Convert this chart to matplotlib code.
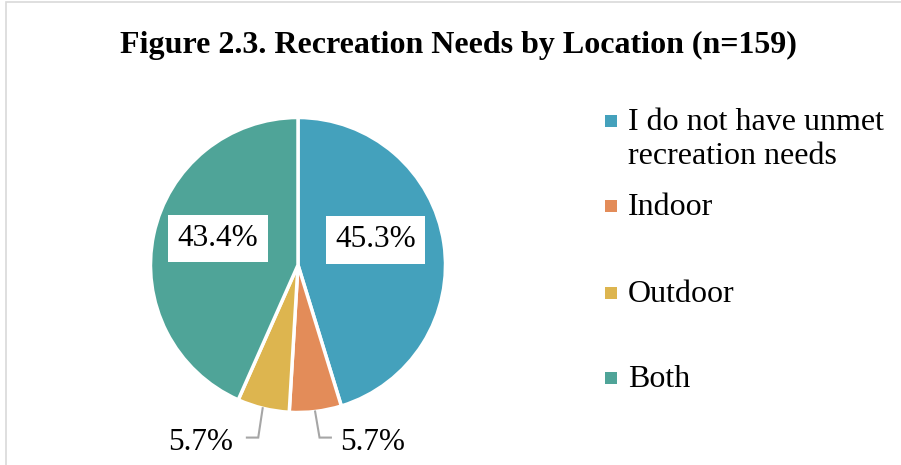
import numpy as np
import matplotlib
matplotlib.use("Agg")
import matplotlib.pyplot as plt
from matplotlib.patches import Rectangle

# data
categories = ["I do not have unmet\nrecreation needs", "Indoor", "Outdoor", "Both"]
shares = [45.3, 5.7, 5.7, 43.4]
colors = ["#44A1BC", "#E38C59", "#DDB54F", "#4FA498"]
title = "Figure 2.3. Recreation Needs by Location (n=159)"

W, H = 901, 465
fig = plt.figure(figsize=(W / 100, H / 100), dpi=100)
plt.rcParams['font.family'] = ['Liberation Serif', 'DejaVu Serif']

# light frame of the chart area (cut off on right / bottom)
fig.patches.append(Rectangle((6 / W, -0.1), 1.2, (H - 2) / H + 0.1 - 0.001,
                             transform=fig.transFigure, fill=False,
                             edgecolor="#D9D9D9", linewidth=1.2))

fig.text(458 / W, 1 - 45 / H, title, ha='center', va='center',
         fontsize=23, fontweight='bold')

# pie axes: center (298, 265) px, radius ~147 px
cx, cy, r = 298, 265, 147.5
s = 1.3
ax = fig.add_axes([(cx - r * s) / W, (H - cy - r * s) / H, 2 * r * s / W, 2 * r * s / H])

wedges, _ = ax.pie(shares, colors=colors, startangle=90, counterclock=False,
                   radius=1, wedgeprops=dict(edgecolor='white', linewidth=2.5))
ax.set_xlim(-s, s)
ax.set_ylim(-s, s)
ax.axis('off')

# label positions (data units)
inside = {0: (0.525, 0.17), 3: (-0.544, 0.18)}
for i, (x, y) in inside.items():
    ax.text(x, y, f"{shares[i]:.1f}%", ha='center', va='center', fontsize=22.5,
            bbox=dict(boxstyle='square,pad=0.3', facecolor='white', edgecolor='none'))

cum = np.cumsum([0] + shares)
ly = -1.17
for i, side, gap in [(1, 1, 0.06), (2, -1, 0.095)]:
    mid = (cum[i] + cum[i + 1]) / 2 / 100 * 2 * np.pi
    px, py = np.sin(mid), np.cos(mid)
    ex = px + 0.03 * side
    hx = ex + 0.077 * side
    ax.plot([px, ex, hx], [py, ly, ly], color='#A6A6A6', linewidth=1.5,
            clip_on=False, solid_joinstyle='miter')
    ax.text(hx + gap * side, ly - 0.035, f"{shares[i]:.1f}%",
            ha='left' if side > 0 else 'right', va='center', fontsize=22.5)

# legend, drawn by hand
baselines = [130, 215, 302, 387]
for lab, col, yb in zip(categories, colors, baselines):
    lines = lab.split("\n")
    for k, line in enumerate(lines):
        fig.text(628 / W, 1 - (yb + 34 * k) / H, line, ha='left',
                 va='baseline', fontsize=23)
    fig.patches.append(Rectangle((605 / W, 1 - (yb - 3) / H), 12 / W, 12 / H,
                                 transform=fig.transFigure, facecolor=col,
                                 edgecolor='none'))

fig.savefig("out.png", dpi=100, facecolor='white')
